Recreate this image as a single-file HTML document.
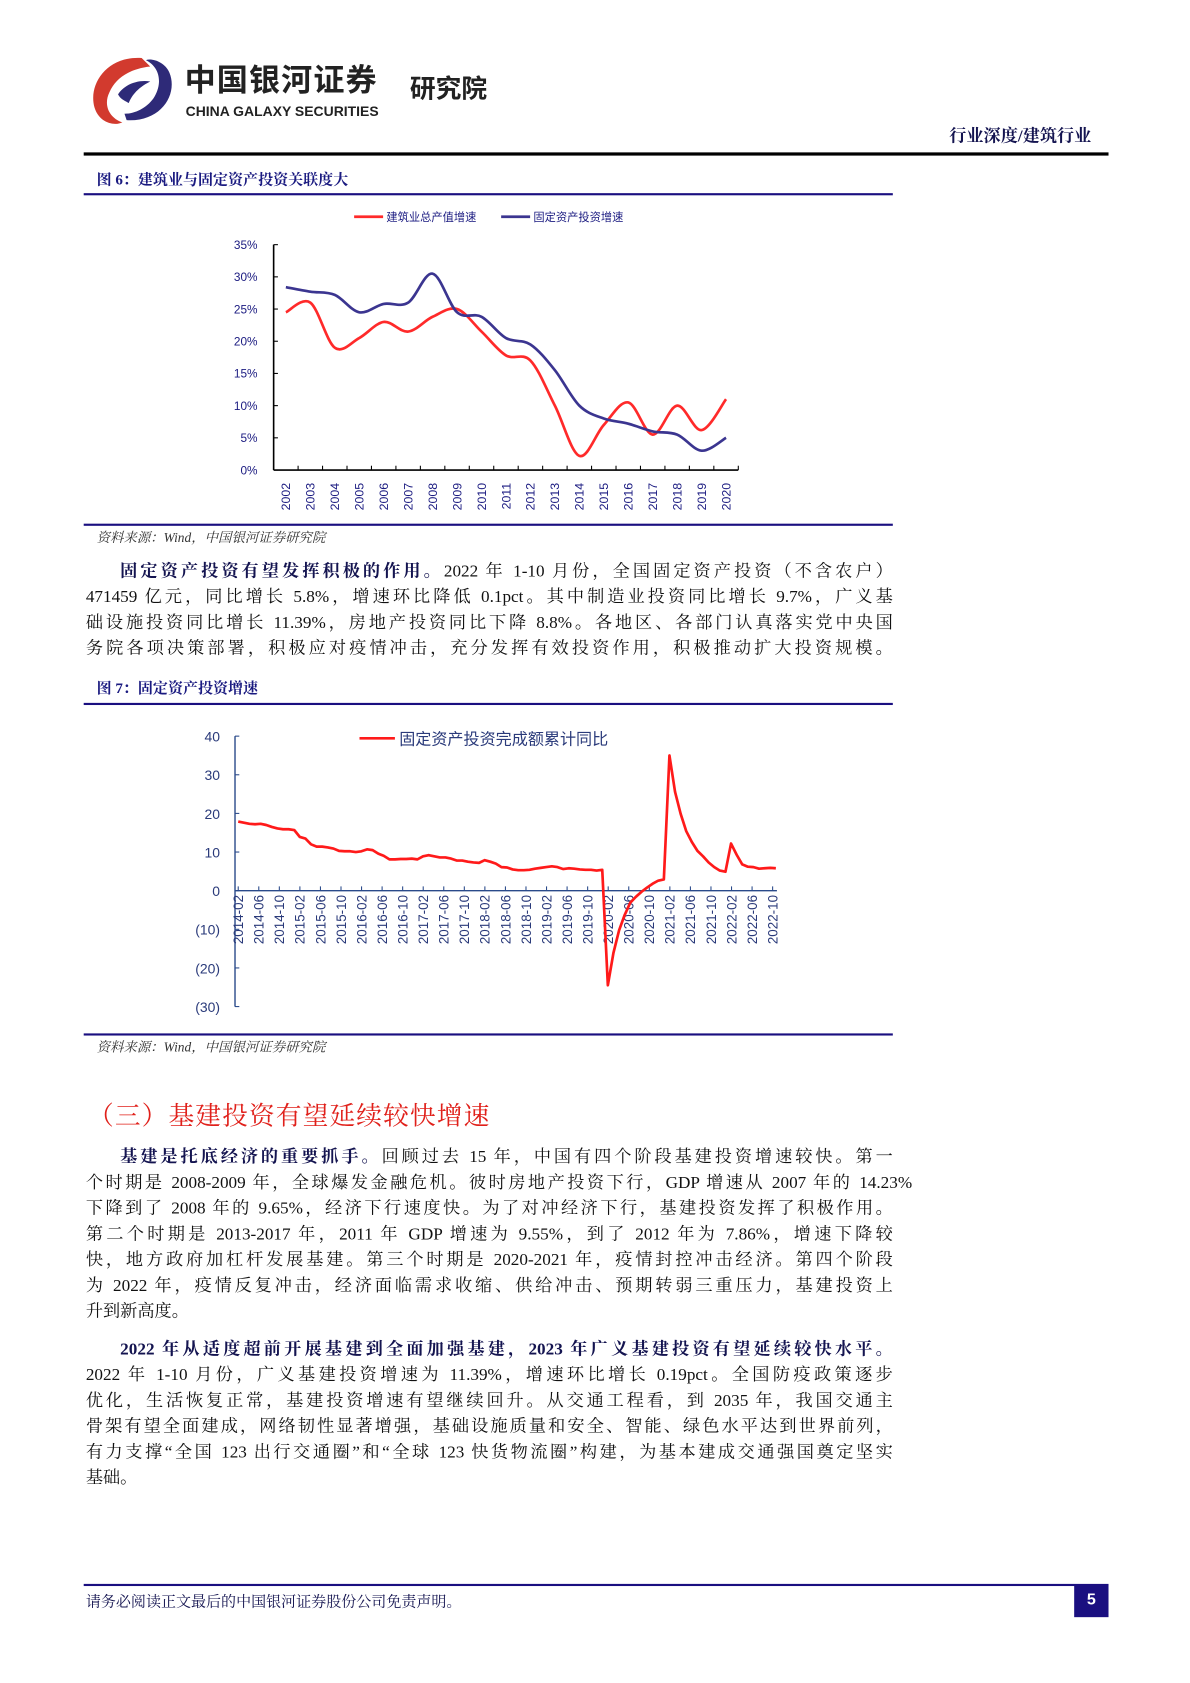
<!DOCTYPE html>
<html><head><meta charset="utf-8">
<style>
html,body{margin:0;padding:0;background:#fff;}
body{width:1190px;height:1683px;overflow:hidden;position:relative;}
#page{position:absolute;left:0;top:0;width:1109px;height:1568px;transform:scale(1.0731);transform-origin:0 0;}
.abs{position:absolute;}
.serif{font-family:"Liberation Serif","Noto Serif CJK SC",serif;}
.sans{font-family:"Liberation Sans","Noto Sans CJK SC",sans-serif;}
.rule{position:absolute;background:#1a0f80;}
.line{position:absolute;left:80px;width:752px;font-size:16px;height:22px;line-height:22px;text-align:justify;text-align-last:justify;white-space:nowrap;color:#111;}
b.hd{color:#141450;}
.ftitle{position:absolute;left:90px;font-size:14px;font-weight:bold;color:#1a1a80;}
.src{position:absolute;left:90px;font-size:12.5px;font-style:italic;color:#333;}
</style></head>
<body>
<div id="page">
  <svg class="abs" style="left:80px;top:48px" width="90" height="72">
    <path d="M52 6 C20 4 2 30 8 52 C12 66 26 70 34 66 C22 62 16 50 22 38 C28 24 42 16 60 14 Z" fill="#d23a2e"/>
    <path d="M38 64 C70 66 86 40 78 20 C74 10 62 6 56 8 C68 14 72 28 64 42 C58 52 46 58 36 58 Z" fill="#2e2a78"/>
    <path d="M30 40 C36 30 50 26 60 28 C52 32 44 38 40 48 C36 46 32 44 30 40Z" fill="#2e2a78"/>
  </svg>
  <div class="abs sans" style="left:172px;top:60px;font-size:29px;line-height:32px;font-weight:bold;color:#222;letter-spacing:1px">中国银河证券</div>
  <div class="abs sans" style="left:173px;top:96px;font-size:13px;line-height:15px;font-weight:bold;color:#222">CHINA GALAXY SECURITIES</div>
  <div class="abs sans" style="left:382px;top:70px;font-size:24px;line-height:28px;font-weight:bold;color:#222">研究院</div>
  <div class="abs serif" style="right:92px;top:114px;font-size:16px;font-weight:bold;color:#141450">行业深度/建筑行业</div>
  <div class="abs" style="left:78px;top:142px;width:955px;height:3px;background:#000"></div>

  <div class="ftitle serif" style="top:157px">图 6：建筑业与固定资产投资关联度大</div>
  <div class="rule" style="left:78px;top:180px;width:754px;height:2px"></div>
  <svg id="c1" class="abs" style="left:0;top:0" width="1109" height="500"></svg>
  <div class="rule" style="left:78px;top:488px;width:754px;height:2px"></div>
  <div class="src serif" style="top:491px">资料来源：Wind，中国银河证券研究院</div>

  <div class="line serif" style="top:522px;text-indent:2em"><b class="hd">固定资产投资有望发挥积极的作用。</b>2022 年 1-10 月份，全国固定资产投资（不含农户）</div>
  <div class="line serif" style="top:546px">471459 亿元，同比增长 5.8%，增速环比降低 0.1pct。其中制造业投资同比增长 9.7%，广义基</div>
  <div class="line serif" style="top:570px">础设施投资同比增长 11.39%，房地产投资同比下降 8.8%。各地区、各部门认真落实党中央国</div>
  <div class="line serif" style="top:594px">务院各项决策部署，积极应对疫情冲击，充分发挥有效投资作用，积极推动扩大投资规模。</div>

  <div class="ftitle serif" style="top:631px">图 7：固定资产投资增速</div>
  <div class="rule" style="left:78px;top:655px;width:754px;height:2px"></div>
  <svg id="c2" class="abs" style="left:0;top:0" width="1109" height="960"></svg>
  <div class="rule" style="left:78px;top:963px;width:754px;height:2px"></div>
  <div class="src serif" style="top:966px">资料来源：Wind，中国银河证券研究院</div>

  <div class="abs serif" style="left:82px;top:1020px;font-size:24px;color:#e0201a;letter-spacing:1px">（三）基建投资有望延续较快增速</div>

  <div class="line serif" style="top:1068px;text-indent:2em"><b class="hd">基建是托底经济的重要抓手。</b>回顾过去 15 年，中国有四个阶段基建投资增速较快。第一</div>
  <div class="line serif" style="top:1092px;width:770px">个时期是 2008-2009 年，全球爆发金融危机。彼时房地产投资下行，GDP 增速从 2007 年的 14.23%</div>
  <div class="line serif" style="top:1116px">下降到了 2008 年的 9.65%，经济下行速度快。为了对冲经济下行，基建投资发挥了积极作用。</div>
  <div class="line serif" style="top:1140px">第二个时期是 2013-2017 年，2011 年 GDP 增速为 9.55%，到了 2012 年为 7.86%，增速下降较</div>
  <div class="line serif" style="top:1164px">快，地方政府加杠杆发展基建。第三个时期是 2020-2021 年，疫情封控冲击经济。第四个阶段</div>
  <div class="line serif" style="top:1188px">为 2022 年，疫情反复冲击，经济面临需求收缩、供给冲击、预期转弱三重压力，基建投资上</div>
  <div class="line serif" style="top:1212px;text-align-last:left">升到新高度。</div>

  <div class="line serif" style="top:1247px;text-indent:2em"><b class="hd">2022 年从适度超前开展基建到全面加强基建，2023 年广义基建投资有望延续较快水平。</b></div>
  <div class="line serif" style="top:1271px">2022 年 1-10 月份，广义基建投资增速为 11.39%，增速环比增长 0.19pct。全国防疫政策逐步</div>
  <div class="line serif" style="top:1295px">优化，生活恢复正常，基建投资增速有望继续回升。从交通工程看，到 2035 年，我国交通主</div>
  <div class="line serif" style="top:1319px">骨架有望全面建成，网络韧性显著增强，基础设施质量和安全、智能、绿色水平达到世界前列，</div>
  <div class="line serif" style="top:1343px">有力支撑“全国 123 出行交通圈”和“全球 123 快货物流圈”构建，为基本建成交通强国奠定坚实</div>
  <div class="line serif" style="top:1367px;text-align-last:left">基础。</div>

  <div class="rule" style="left:78px;top:1476px;width:955px;height:2px"></div>
  <div class="abs serif" style="left:80px;top:1482px;font-size:14px;color:#141450">请务必阅读正文最后的中国银河证券股份公司免责声明。</div>
  <div class="abs sans" style="left:1001px;top:1477px;width:32px;height:30px;background:#1a0f80;color:#fff;font-size:15px;font-weight:bold;text-align:center;line-height:28px">5</div>
</div>

<script>
// ---- Chart 1 data ----
const years = ["2002","2003","2004","2005","2006","2007","2008","2009","2010","2011","2012","2013","2014","2015","2016","2017","2018","2019","2020"];
const constructionGrowth = [24.5,26,19,20.5,23,21.5,23.8,25,21.5,17.8,17,10,2.2,7,10.5,5.5,10,6.2,11];
const faiGrowth = [28.4,27.7,27.2,24.5,25.8,26,30.5,24.5,23.8,20.5,19.5,15.5,10,8,7.2,6,5.5,3,5];
const yTicks1 = [0,5,10,15,20,25,30,35];

// ---- Chart 2 data ----
const monthLabels = ["2014-02","2014-06","2014-10","2015-02","2015-06","2015-10","2016-02","2016-06","2016-10","2017-02","2017-06","2017-10","2018-02","2018-06","2018-10","2019-02","2019-06","2019-10","2020-02","2020-06","2020-10","2021-02","2021-06","2021-10","2022-02","2022-06","2022-10"];
const faiCumulative = [
 17.9,17.6,17.3,17.2,17.3,17.0,16.5,16.1,15.9,15.9,15.7,
 13.9,13.5,12.0,11.4,11.4,11.2,10.9,10.3,10.2,10.2,10.0,
 10.2,10.7,10.5,9.6,9.0,8.1,8.1,8.2,8.2,8.3,8.1,
 8.9,9.2,8.9,8.6,8.6,8.3,7.8,7.8,7.5,7.3,7.2,
 7.9,7.5,7.0,6.1,6.0,5.5,5.3,5.3,5.4,5.7,5.9,
 6.1,6.3,6.1,5.6,5.8,5.7,5.5,5.4,5.4,5.2,5.4,
 -24.5,-16.1,-10.3,-6.3,-3.1,-1.6,-0.3,0.8,1.8,2.6,2.9,
 35.0,25.6,19.9,15.4,12.6,10.3,8.9,7.3,6.1,5.2,4.9,
 12.2,9.3,6.8,6.2,6.1,5.7,5.8,5.9,5.8];
const yTicks2 = [40,30,20,10,0,-10,-20,-30];

const NS="http://www.w3.org/2000/svg";
function mk(svg,tag,attrs,text){const e=document.createElementNS(NS,tag);for(const k in attrs)e.setAttribute(k,attrs[k]);if(text!==undefined)e.textContent=text;svg.appendChild(e);return e;}
function smooth(pts){let d="M"+pts[0][0]+","+pts[0][1];for(let i=0;i<pts.length-1;i++){const p0=pts[i-1]||pts[i],p1=pts[i],p2=pts[i+1],p3=pts[i+2]||p2;const c1x=p1[0]+(p2[0]-p0[0])/6,c1y=p1[1]+(p2[1]-p0[1])/6,c2x=p2[0]-(p3[0]-p1[0])/6,c2y=p2[1]-(p3[1]-p1[1])/6;d+=" C"+c1x+","+c1y+" "+c2x+","+c2y+" "+p2[0]+","+p2[1];}return d;}

// Chart 1
(function(){
 const svg=document.getElementById('c1');
 const L=255,R=688,T=228,B=438,max=35;
 const bw=(R-L)/years.length;
 const x=i=>L+bw*(i+0.5), y=v=>B-(v/max)*(B-T);
 const f='font-family:"Liberation Sans","Noto Sans CJK SC",sans-serif';
 let e;
 e=mk(svg,'line',{x1:L,y1:T,x2:L,y2:B,stroke:'#000','stroke-width':1.5});
 
 e=mk(svg,'line',{x1:L,y1:B,x2:R,y2:B,stroke:'#000','stroke-width':1.5});
 
 yTicks1.forEach(v=>{
  mk(svg,'line',{x1:L,y1:y(v),x2:L+4,y2:y(v),stroke:'#000'});
  e=mk(svg,'text',{x:240,y:y(v)+4,'text-anchor':'end','font-size':11,fill:'#1a1a80',style:f},v+'%');
  
 });
 years.forEach((yr,i)=>{
  mk(svg,'line',{x1:L+bw*(i+1),y1:B,x2:L+bw*(i+1),y2:B-4,stroke:'#000'});
  e=mk(svg,'text',{x:0,y:0,transform:`translate(${x(i)+4},450) rotate(-90)`,'text-anchor':'end','font-size':11.5,fill:'#1a1a80',style:f},yr);
  
 });
 e=mk(svg,'path',{d:smooth(constructionGrowth.map((v,i)=>[x(i),y(v)])),fill:'none',stroke:'#ff2a2a','stroke-width':2.5});
 
 e=mk(svg,'path',{d:smooth(faiGrowth.map((v,i)=>[x(i),y(v)])),fill:'none',stroke:'#3b3590','stroke-width':2.5});
 
 mk(svg,'line',{x1:330,y1:202,x2:357,y2:202,stroke:'#ff2a2a','stroke-width':2.5});
 e=mk(svg,'text',{x:360,y:206,'font-size':10.5,fill:'#1a1a80',style:f},'建筑业总产值增速');
 
 mk(svg,'line',{x1:467,y1:202,x2:494,y2:202,stroke:'#3b3590','stroke-width':2.5});
 e=mk(svg,'text',{x:497,y:206,'font-size':10.5,fill:'#1a1a80',style:f},'固定资产投资增速');
 
})();

// Chart 2
(function(){
 const svg=document.getElementById('c2');
 const L=219,y40=686,y0=830,upp=(y0-y40)/40;
 const x0=222,x1=720;
 const lx=i=>x0+i*((x1-x0)/(monthLabels.length-1));
 const px=i=>x0+i*((x1-x0+3)/(faiCumulative.length-1));
 const y=v=>y0-v*upp;
 const f='font-family:"Liberation Sans","Noto Sans CJK SC",sans-serif';
 let e;
 e=mk(svg,'line',{x1:L,y1:y(40),x2:L,y2:y(-30),stroke:'#2a4a8a','stroke-width':1.3});
 
 e=mk(svg,'line',{x1:L,y1:y0,x2:724,y2:y0,stroke:'#2a4a8a','stroke-width':1.3});
 
 yTicks2.forEach(v=>{
  mk(svg,'line',{x1:L,y1:y(v),x2:L+4,y2:y(v),stroke:'#2a4a8a'});
  e=mk(svg,'text',{x:205,y:y(v)+5,'text-anchor':'end','font-size':13,fill:'#2a3a7a',style:f},v<0?'('+(-v)+')':String(v));
  
 });
 monthLabels.forEach((m,i)=>{
  mk(svg,'line',{x1:lx(i),y1:y0,x2:lx(i),y2:y0-4,stroke:'#2a4a8a'});
  e=mk(svg,'text',{x:0,y:0,transform:`translate(${lx(i)+4.5},834) rotate(-90)`,'text-anchor':'end','font-size':12.5,fill:'#2a3a7a',style:f},m);
  
 });
 e=mk(svg,'polyline',{points:faiCumulative.map((v,i)=>px(i)+','+y(v)).join(' '),fill:'none',stroke:'#ff1a1a','stroke-width':2.5,'stroke-linejoin':'round'});
 
 mk(svg,'line',{x1:335,y1:688,x2:368,y2:688,stroke:'#ff1a1a','stroke-width':2.5});
 e=mk(svg,'text',{x:372,y:694,'font-size':15,fill:'#2a3a7a',style:f},'固定资产投资完成额累计同比');
 
})();
</script>
</body></html>
